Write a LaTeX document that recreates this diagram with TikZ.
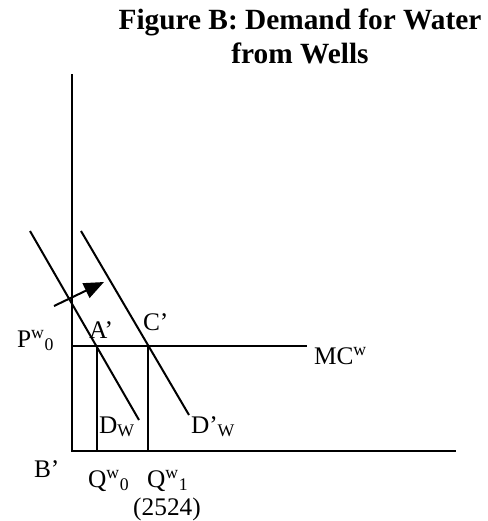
\documentclass[tikz,border=0pt]{standalone}
\usepackage{fontspec}
\setmainfont{Liberation Serif}
\usetikzlibrary{positioning,arrows.meta}

\begin{document}
\begin{tikzpicture}[x=0.75pt,y=-0.75pt,line width=1.5pt]
  % 1 unit = 1 px of the 487x521 sheet, y runs downwards
  \useasboundingbox (0,0) rectangle (487,521);
  \tikzset{lbl/.style={inner sep=0pt,anchor=base west,font=\fontsize{19}{22}\selectfont},
           ttl/.style={inner sep=0pt,font=\bfseries\fontsize{22}{25.5}\selectfont,align=center}}
  % title (base = last line)
  \node[ttl,anchor=base] (title) at (300,63) {Figure B: Demand for Water\\from Wells};
  % axes
  \coordinate (origin) at (72,451);
  \coordinate (ytop)   at (72,74);
  \coordinate (xend)   at (456,451);
  \draw (ytop) -- (origin) -- (xend);
  % marginal cost
  \coordinate (mcend) at (307,346);
  \draw (origin |- mcend) -- (mcend);
  % demand curves
  \coordinate (d0a) at (30,231);  \coordinate (d0b) at (139,420);
  \coordinate (d1a) at (81,231);  \coordinate (d1b) at (189,415);
  \draw (d0a) -- (d0b);
  \draw (d1a) -- (d1b);
  % quantities
  \coordinate (ptA) at (97,346);  \coordinate (ptC) at (148,346);
  \draw (ptA) -- (ptA |- origin);
  \draw (ptC) -- (ptC |- origin);
  % shift
  \coordinate (shfrom) at (54,306); \coordinate (shto) at (104,282);
  \draw[-{Triangle[length=15pt,width=12pt]}] (shfrom) -- (shto);
  % labels
  \node[lbl] (p0)  at (16,347)  {P\textsuperscript{w}\textsubscript{0}};
  \node[lbl] (la)  at (88,338)  {A’};
  \node[lbl] (lc)  at (142,330) {C’};
  \node[lbl] (mc)  at (313,364) {MC\textsuperscript{w}};
  \node[lbl] (dw)  at (98,433)  {D\textsubscript{W}};
  \node[lbl] (dw1) at (190,433) {D’\textsubscript{W}};
  \node[lbl] (lb)  at (33,477)  {B’};
  \node[lbl] (q0)  at (87,487)  {Q\textsuperscript{w}\textsubscript{0}};
  \node[lbl] (q1)  at (146,487) {Q\textsuperscript{w}\textsubscript{1}};
  \node[lbl,anchor=base] (qval) at (167,515) {(2524)};
\end{tikzpicture}
\end{document}
